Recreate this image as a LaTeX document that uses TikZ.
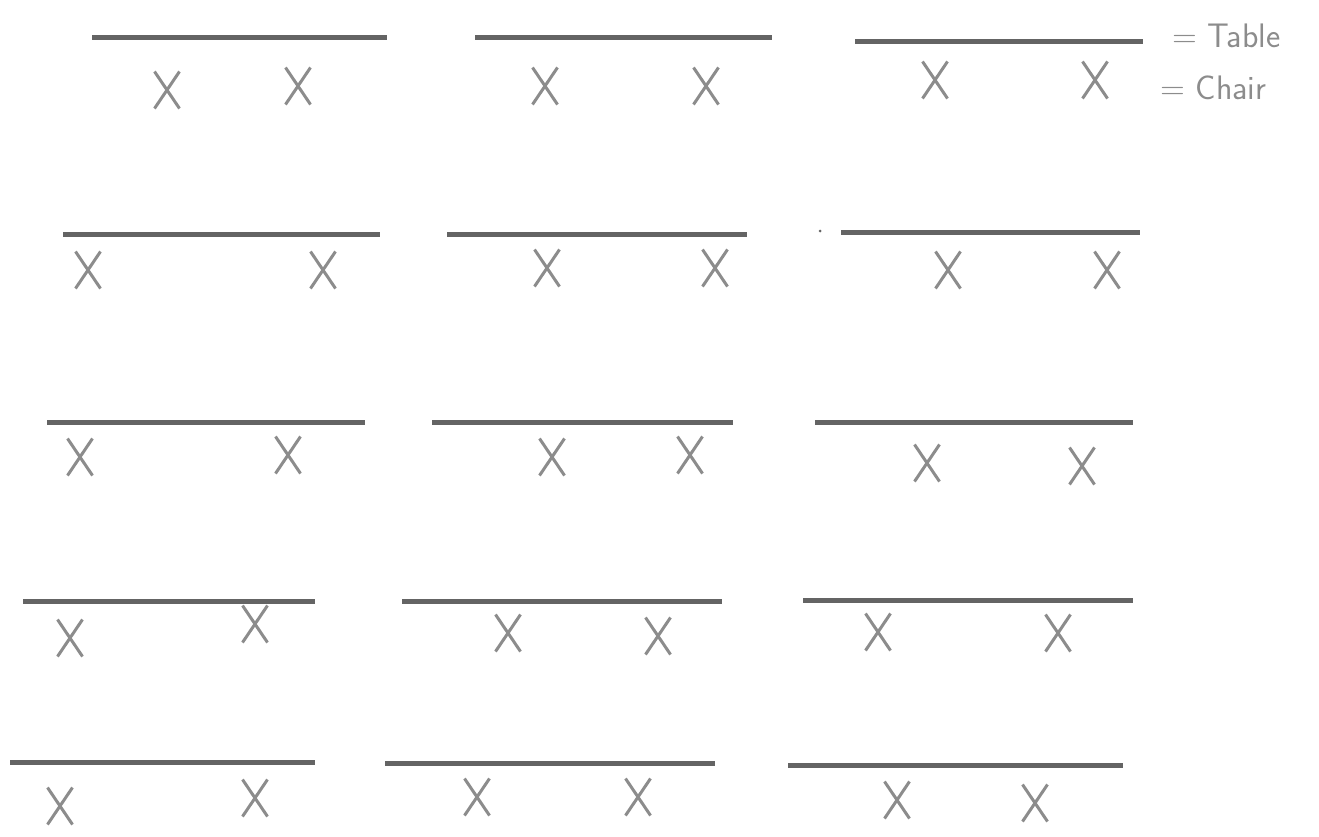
\documentclass[tikz,border=0pt]{standalone}
\usetikzlibrary{shapes.misc}
\definecolor{tablegray}{RGB}{100,100,100}
\definecolor{chairgray}{RGB}{140,140,140}
\begin{document}
\begin{tikzpicture}[x=1pt,y=-1pt,
  tableline/.style={line width=5pt, draw=tablegray},
  chair/.style={cross out, draw=chairgray, line width=3pt, minimum width=22pt, minimum height=34pt, inner sep=0pt},
  legend/.style={font=\fontsize{34}{40}\selectfont\sffamily, text=chairgray, anchor=west, inner sep=0pt}]
\useasboundingbox (0,0) rectangle (1319,836);
% Row 1
\draw[tableline] (92,37) -- (387,37);
\draw[tableline] (475,37) -- (772,37);
\draw[tableline] (855,41) -- (1143,41);
\node[chair] (c11a) at (167,90) {};
\node[chair] (c11b) at (298,86) {};
\node[chair] (c12a) at (545,86) {};
\node[chair] (c12b) at (706,86) {};
\node[chair] (c13a) at (935,80) {};
\node[chair] (c13b) at (1095,80) {};
\node[legend] (ltable) at (1172,36) {= Table};
\node[legend] (lchair) at (1160,88) {= Chair};
% Row 2
\draw[tableline] (63,234) -- (380,234);
\draw[tableline] (447,234) -- (747,234);
\draw[tableline] (841,232) -- (1140,232);
\fill[tablegray] (820,231) circle (1.5pt);
\node[chair] (c21a) at (88,270) {};
\node[chair] (c21b) at (323,270) {};
\node[chair] (c22a) at (547,268) {};
\node[chair] (c22b) at (715,268) {};
\node[chair] (c23a) at (948,270) {};
\node[chair] (c23b) at (1107,270) {};
% Row 3
\draw[tableline] (47,422) -- (365,422);
\draw[tableline] (432,422) -- (733,422);
\draw[tableline] (815,422) -- (1133,422);
\node[chair] (c31a) at (80,457) {};
\node[chair] (c31b) at (288,455) {};
\node[chair] (c32a) at (552,457) {};
\node[chair] (c32b) at (690,455) {};
\node[chair] (c33a) at (927,463) {};
\node[chair] (c33b) at (1082,466) {};
% Row 4
\draw[tableline] (23,601) -- (315,601);
\draw[tableline] (402,601) -- (722,601);
\draw[tableline] (803,600) -- (1133,600);
\node[chair] (c41a) at (70,638) {};
\node[chair] (c41b) at (255,624) {};
\node[chair] (c42a) at (508,633) {};
\node[chair] (c42b) at (658,636) {};
\node[chair] (c43a) at (878,632) {};
\node[chair] (c43b) at (1058,633) {};
% Row 5
\draw[tableline] (10,762) -- (315,762);
\draw[tableline] (385,763) -- (715,763);
\draw[tableline] (788,765) -- (1123,765);
\node[chair] (c51a) at (60,806) {};
\node[chair] (c51b) at (255,798) {};
\node[chair] (c52a) at (477,797) {};
\node[chair] (c52b) at (638,797) {};
\node[chair] (c53a) at (897,800) {};
\node[chair] (c53b) at (1035,803) {};
\end{tikzpicture}
\end{document}
